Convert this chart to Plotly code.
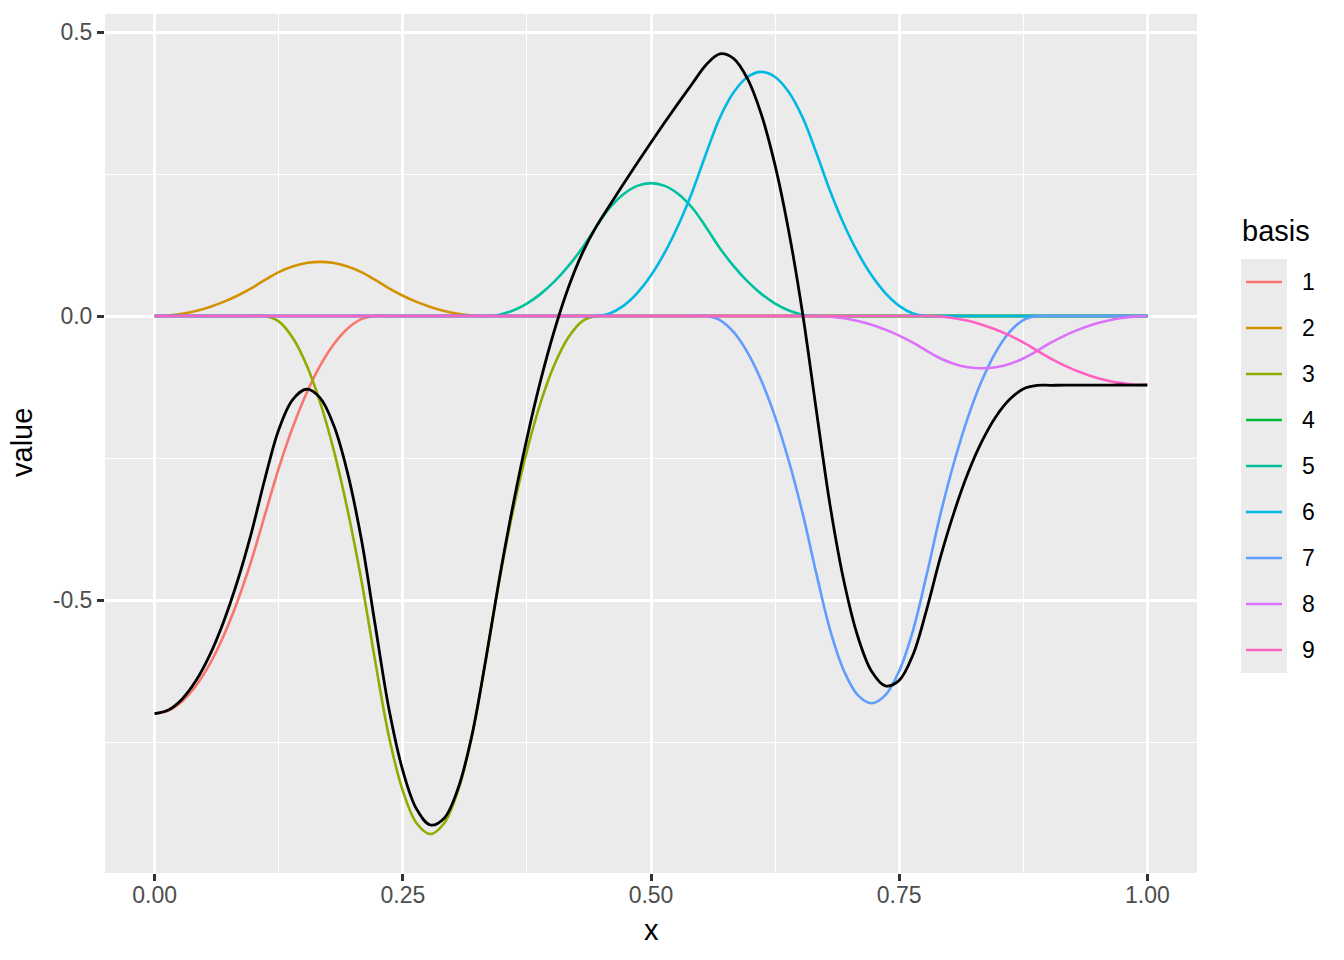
import plotly.graph_objects as go

# ---------------- data ----------------
x = [0.0, 0.0139, 0.0278, 0.0417, 0.0556, 0.0694, 0.0833, 0.0972,
     0.1111, 0.125, 0.1389, 0.1528, 0.1667, 0.1806, 0.1944, 0.2083,
     0.2222, 0.2361, 0.25, 0.2639, 0.2778, 0.2917, 0.3056, 0.3194,
     0.3333, 0.3472, 0.3611, 0.375, 0.3889, 0.4028, 0.4167, 0.4306,
     0.4444, 0.4583, 0.4722, 0.4861, 0.5, 0.5139, 0.5278, 0.5417,
     0.5556, 0.5694, 0.5833, 0.5972, 0.6111, 0.625, 0.6389, 0.6528,
     0.6667, 0.6806, 0.6944, 0.7083, 0.7222, 0.7361, 0.75, 0.7639,
     0.7778, 0.7917, 0.8056, 0.8194, 0.8333, 0.8472, 0.8611, 0.875,
     0.8889, 0.9028, 0.9167, 0.9306, 0.9444, 0.9583, 0.9722, 0.9861,
     1.0]

basis_1 = [-0.700, -0.6945, -0.6781, -0.6508, -0.6125, -0.5633, -0.5031, -0.432,
           -0.350, -0.268, -0.1969, -0.1367, -0.0875, -0.0492, -0.0219, -0.0055,
           0, 0, 0, 0, 0, 0, 0, 0,
           0, 0, 0, 0, 0, 0, 0, 0,
           0, 0, 0, 0, 0, 0, 0, 0,
           0, 0, 0, 0, 0, 0, 0, 0,
           0, 0, 0, 0, 0, 0, 0, 0,
           0, 0, 0, 0, 0, 0, 0, 0,
           0, 0, 0, 0, 0, 0, 0, 0,
           0]
basis_2 = [0, 0.0010, 0.0040, 0.0089, 0.0159, 0.0248, 0.0357, 0.0486,
           0.0635, 0.0774, 0.0873, 0.0933, 0.0953, 0.0933, 0.0873, 0.0774,
           0.0635, 0.0486, 0.0357, 0.0248, 0.0159, 0.0089, 0.0040, 0.0010,
           0, 0, 0, 0, 0, 0, 0, 0,
           0, 0, 0, 0, 0, 0, 0, 0,
           0, 0, 0, 0, 0, 0, 0, 0,
           0, 0, 0, 0, 0, 0, 0, 0,
           0, 0, 0, 0, 0, 0, 0, 0,
           0, 0, 0, 0, 0, 0, 0, 0,
           0]
basis_3 = [0, 0, 0, 0, 0, 0, 0, 0,
           0, -0.0095, -0.038, -0.0855, -0.152, -0.2375, -0.342, -0.4655,
           -0.608, -0.741, -0.836, -0.893, -0.912, -0.893, -0.836, -0.741,
           -0.608, -0.4655, -0.342, -0.2375, -0.152, -0.0855, -0.038, -0.0095,
           0, 0, 0, 0, 0, 0, 0, 0,
           0, 0, 0, 0, 0, 0, 0, 0,
           0, 0, 0, 0, 0, 0, 0, 0,
           0, 0, 0, 0, 0, 0, 0, 0,
           0, 0, 0, 0, 0, 0, 0, 0,
           0]
basis_4 = [0, 0, 0, 0, 0, 0, 0, 0,
           0, 0, 0, 0, 0, 0, 0, 0,
           0, 0, 0, 0, 0, 0, 0, 0,
           0, 0, 0, 0, 0, 0, 0, 0,
           0, 0, 0, 0, 0, 0, 0, 0,
           0, 0, 0, 0, 0, 0, 0, 0,
           0, 0, 0, 0, 0, 0, 0, 0,
           0, 0, 0, 0, 0, 0, 0, 0,
           0, 0, 0, 0, 0, 0, 0, 0,
           0]
basis_5 = [0, 0, 0, 0, 0, 0, 0, 0,
           0, 0, 0, 0, 0, 0, 0, 0,
           0, 0, 0, 0, 0, 0, 0, 0,
           0, 0.0024, 0.0098, 0.0219, 0.039, 0.0609, 0.0878, 0.1194,
           0.156, 0.1901, 0.2145, 0.2291, 0.234, 0.2291, 0.2145, 0.1901,
           0.156, 0.1194, 0.0878, 0.0609, 0.039, 0.0219, 0.0098, 0.0024,
           0, 0, 0, 0, 0, 0, 0, 0,
           0, 0, 0, 0, 0, 0, 0, 0,
           0, 0, 0, 0, 0, 0, 0, 0,
           0]
basis_6 = [0, 0, 0, 0, 0, 0, 0, 0,
           0, 0, 0, 0, 0, 0, 0, 0,
           0, 0, 0, 0, 0, 0, 0, 0,
           0, 0, 0, 0, 0, 0, 0, 0,
           0, 0.0045, 0.0179, 0.0403, 0.0716, 0.1119, 0.1612, 0.2193,
           0.2865, 0.3492, 0.3939, 0.4208, 0.4298, 0.4208, 0.3939, 0.3492,
           0.2865, 0.2193, 0.1612, 0.1119, 0.0716, 0.0403, 0.0179, 0.0045,
           0, 0, 0, 0, 0, 0, 0, 0,
           0, 0, 0, 0, 0, 0, 0, 0,
           0]
basis_7 = [0, 0, 0, 0, 0, 0, 0, 0,
           0, 0, 0, 0, 0, 0, 0, 0,
           0, 0, 0, 0, 0, 0, 0, 0,
           0, 0, 0, 0, 0, 0, 0, 0,
           0, 0, 0, 0, 0, 0, 0, 0,
           0, -0.0071, -0.0284, -0.0639, -0.1136, -0.1775, -0.2557, -0.348,
           -0.4545, -0.5539, -0.6249, -0.6676, -0.6818, -0.6676, -0.6249, -0.5539,
           -0.4545, -0.348, -0.2557, -0.1775, -0.1136, -0.0639, -0.0284, -0.0071,
           0, 0, 0, 0, 0, 0, 0, 0,
           0]
basis_8 = [0, 0, 0, 0, 0, 0, 0, 0,
           0, 0, 0, 0, 0, 0, 0, 0,
           0, 0, 0, 0, 0, 0, 0, 0,
           0, 0, 0, 0, 0, 0, 0, 0,
           0, 0, 0, 0, 0, 0, 0, 0,
           0, 0, 0, 0, 0, 0, 0, 0,
           0, -0.001, -0.0038, -0.0086, -0.0153, -0.024, -0.0345, -0.047,
           -0.0614, -0.0748, -0.0844, -0.0901, -0.092, -0.0901, -0.0844, -0.0748,
           -0.0614, -0.047, -0.0345, -0.024, -0.0153, -0.0086, -0.0038, -0.001,
           0]
basis_9 = [0, 0, 0, 0, 0, 0, 0, 0,
           0, 0, 0, 0, 0, 0, 0, 0,
           0, 0, 0, 0, 0, 0, 0, 0,
           0, 0, 0, 0, 0, 0, 0, 0,
           0, 0, 0, 0, 0, 0, 0, 0,
           0, 0, 0, 0, 0, 0, 0, 0,
           0, 0, 0, 0, 0, 0, 0, 0,
           0, -0.0009, -0.0038, -0.0085, -0.0152, -0.0237, -0.0342, -0.0465,
           -0.0608, -0.075, -0.0873, -0.0978, -0.1063, -0.113, -0.1177, -0.1206,
           -0.1215]
total = [-0.700, -0.6935, -0.6741, -0.6419, -0.5966, -0.5385, -0.4674, -0.3834,
         -0.2865, -0.2001, -0.1476, -0.1289, -0.1442, -0.1934, -0.2766, -0.3936,
         -0.5445, -0.6924, -0.8003, -0.8682, -0.8961, -0.8841, -0.832, -0.74,
         -0.608, -0.4631, -0.3322, -0.2156, -0.113, -0.0246, 0.0498, 0.1099,
         0.156, 0.1946, 0.2324, 0.2694, 0.3056, 0.341, 0.3757, 0.4094,
         0.4425, 0.4615, 0.4533, 0.4178, 0.3552, 0.2652, 0.148, 0.0036,
         -0.168, -0.3356, -0.4675, -0.5643, -0.6255, -0.6513, -0.6415, -0.5964,
         -0.5159, -0.4237, -0.3439, -0.2761, -0.2208, -0.1777, -0.147, -0.1284,
         -0.1222, -0.122, -0.1218, -0.1218, -0.1216, -0.1216, -0.1215, -0.1216,
         -0.1215]

basis_names = ["1", "2", "3", "4", "5", "6", "7", "8", "9"]
x_ticks = [0.0, 0.25, 0.5, 0.75, 1.0]
x_tick_text = ["0.00", "0.25", "0.50", "0.75", "1.00"]
y_ticks = [-0.5, 0.0, 0.5]
y_tick_text = ["-0.5", "0.0", "0.5"]

# ---------------- styling ----------------
series = [basis_1, basis_2, basis_3, basis_4, basis_5, basis_6, basis_7, basis_8, basis_9]
colors = ["#F8766D", "#D39200", "#93AA00", "#00BA38", "#00C19F",
          "#00B9E3", "#619CFF", "#DB72FB", "#FF61C3"]
FONT = "Liberation Sans, Arial, Helvetica, sans-serif"

W, H = 1344, 960
L, R, T, B = 105, 1197, 14, 873  # panel edges in pixels


def px(xp):
    return (xp - L) / (R - L)


def py(yp):
    return (B - yp) / (B - T)


fig = go.Figure()
for name, vals, col in zip(basis_names, series, colors):
    fig.add_trace(go.Scatter(
        x=x, y=vals, mode="lines", name=name, showlegend=False,
        line=dict(color=col, width=2.6, shape="spline", smoothing=1.0),
        hoverinfo="skip"))
fig.add_trace(go.Scatter(
    x=x, y=total, mode="lines", name="total", showlegend=False,
    line=dict(color="black", width=2.8, shape="spline", smoothing=1.0),
    hoverinfo="skip"))

axis_common = dict(
    showline=False, zeroline=False, ticks="outside", ticklen=7, tickwidth=2.7,
    tickcolor="#333333", tickfont=dict(family=FONT, size=23, color="#4D4D4D"),
    showgrid=True, gridcolor="white", gridwidth=2.7, fixedrange=True,
)

fig.update_layout(
    width=W, height=H,
    margin=dict(l=L, r=W - R, t=T, b=H - B, autoexpand=False),
    paper_bgcolor="white", plot_bgcolor="#EBEBEB",
    font=dict(family=FONT),
    xaxis=dict(range=[-0.05, 1.05], tickmode="array", tickvals=x_ticks, ticktext=x_tick_text,
               ticklabelstandoff=-6,
               minor=dict(tickmode="array", tickvals=[0.125, 0.375, 0.625, 0.875],
                          showgrid=True, gridcolor="white", gridwidth=1.35, ticks=""),
               **axis_common),
    yaxis=dict(range=[-0.9806, 0.5317], tickmode="array", tickvals=y_ticks, ticktext=y_tick_text,
               minor=dict(tickmode="array", tickvals=[-0.75, -0.25, 0.25],
                          showgrid=True, gridcolor="white", gridwidth=1.35, ticks=""),
               **axis_common),
    showlegend=False,
)

annotations = [
    dict(text="x", x=0.5, y=py(930), xref="paper", yref="paper", showarrow=False,
         xanchor="center", yanchor="middle", font=dict(family=FONT, size=29, color="black")),
    dict(text="value", x=px(22), y=py(443), xref="paper", yref="paper", showarrow=False,
         textangle=-90, xanchor="center", yanchor="middle",
         font=dict(family=FONT, size=29, color="black")),
    dict(text="basis", x=px(1240), y=py(231), xref="paper", yref="paper", showarrow=False,
         xanchor="left", yanchor="middle", font=dict(family=FONT, size=29, color="black")),
]
shapes = [
    dict(type="rect", xref="paper", yref="paper", x0=px(1241), x1=px(1287),
         y0=py(673), y1=py(259), fillcolor="#EBEBEB", line=dict(width=0), layer="below"),
]
for k, (name, col) in enumerate(zip(basis_names, colors)):
    yc = 282 + 46 * k
    shapes.append(dict(type="line", xref="paper", yref="paper", x0=px(1246), x1=px(1282),
                       y0=py(yc), y1=py(yc), line=dict(color=col, width=2.6)))
    annotations.append(dict(text=name, x=px(1300), y=py(yc), xref="paper", yref="paper",
                            showarrow=False, xanchor="left", yanchor="middle",
                            font=dict(family=FONT, size=23, color="black")))

fig.update_layout(annotations=annotations, shapes=shapes)
fig.write_html("out.html", config={"displayModeBar": False},
               post_script="document.body.style.margin='0px';")
